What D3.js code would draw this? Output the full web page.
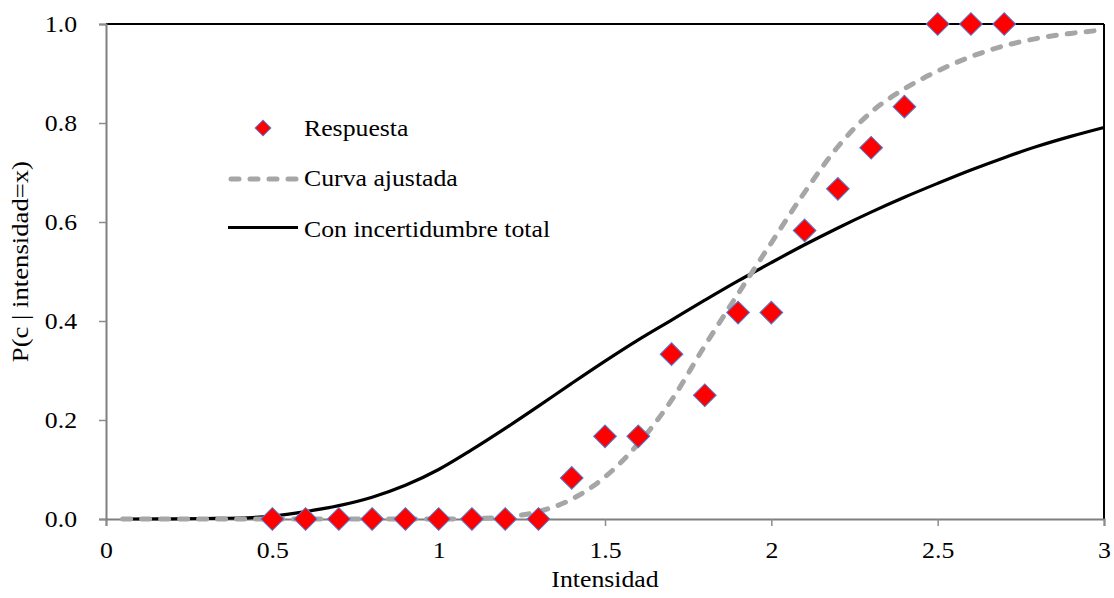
<!DOCTYPE html>
<html>
<head>
<meta charset="utf-8">
<script src="https://cdn.jsdelivr.net/npm/d3@7"></script>
<style>
  body { margin: 0; background: #fff; }
  svg text { font-family: "Liberation Serif", "Times New Roman", serif; fill: #000; }
</style>
</head>
<body>
<div id="chart"></div>
<script>
var serif = '"Liberation Serif", "Times New Roman", serif';

// observed response
var respX = [0.5, 0.6, 0.7, 0.8, 0.9, 1.0, 1.1, 1.2, 1.3, 1.4, 1.5, 1.6, 1.7, 1.8, 1.9, 2.0, 2.1, 2.2, 2.3, 2.4, 2.5, 2.6, 2.7];
var respY = [0, 0, 0, 0, 0, 0, 0, 0, 0, 0.083, 0.167, 0.167, 0.333, 0.25, 0.417, 0.417, 0.583, 0.667, 0.75, 0.833, 1, 1, 1];

// fitted curve
var fitX = [0.05, 0.5, 1.0, 1.1, 1.2, 1.3, 1.4, 1.5, 1.6, 1.7, 1.8, 1.9, 2.0, 2.1, 2.2, 2.3, 2.4, 2.5, 2.6, 2.7, 2.8, 2.9, 3.0];
var fitY = [0, 0, 0, 0.001, 0.004, 0.015, 0.04, 0.085, 0.152, 0.24, 0.35, 0.455, 0.558, 0.66, 0.752, 0.822, 0.869, 0.905, 0.934, 0.956, 0.971, 0.981, 0.988];

// with total uncertainty
var totX = [0.05, 0.2, 0.3, 0.4, 0.5, 0.6, 0.7, 0.8, 0.9, 1.0, 1.1, 1.2, 1.3, 1.4, 1.5, 1.6, 1.7, 1.8, 1.9, 2.0, 2.1, 2.2, 2.3, 2.4, 2.5, 2.6, 2.7, 2.8, 2.9, 3.0];
var totY = [0, 0.0003, 0.001, 0.002, 0.006, 0.015, 0.027, 0.044, 0.068, 0.1, 0.14, 0.183, 0.228, 0.274, 0.319, 0.362, 0.402, 0.442, 0.481, 0.518, 0.554, 0.588, 0.620, 0.650, 0.678, 0.705, 0.730, 0.753, 0.773, 0.791];

var xTicks = [0, 0.5, 1, 1.5, 2, 2.5, 3];
var yTicks = [0, 0.2, 0.4, 0.6, 0.8, 1.0];

var legendLabels = ['Respuesta', 'Curva ajustada', 'Con incertidumbre total'];

var margin = {top: 24, right: 10, bottom: 79, left: 106};

var svg = d3.select('#chart').append('svg')
    .attr('width', 1114)
    .attr('height', 598);

var wrapper = svg.append('g')
    .attr('transform', 'translate(' + margin.left + ',' + margin.top + ')');

var xScale = d3.scaleLinear().domain([0, 3]).range([0, 998]),
    yScale = d3.scaleLinear().domain([0, 1]).range([495, 0]);

// the original text is a little wider than Liberation Serif
function widen(sel, k) {
  sel.each(function() {
    var w = this.getComputedTextLength();
    d3.select(this)
        .attr('textLength', w * (k || 1.12))
        .attr('lengthAdjust', 'spacingAndGlyphs');
  });
}

// frame: top and right in black
wrapper.append('line')
    .attr('x1', 0).attr('x2', xScale(3))
    .attr('y1', yScale(1)).attr('y2', yScale(1))
    .style('stroke', '#000').style('stroke-width', 2);
wrapper.append('line')
    .attr('x1', xScale(3)).attr('x2', xScale(3))
    .attr('y1', yScale(1)).attr('y2', yScale(0))
    .style('stroke', '#000').style('stroke-width', 2);

// axes
var xAxis = wrapper.append('g')
    .attr('transform', 'translate(0,' + yScale(0) + ')')
    .call(d3.axisBottom(xScale).tickValues(xTicks).tickSize(7).tickPadding(16)
      .tickFormat(function(d) { return d3.format('')(d); }));

var yAxis = wrapper.append('g')
    .call(d3.axisLeft(yScale).tickValues(yTicks).tickSize(7).tickPadding(22)
      .tickFormat(d3.format('.1f')));

[xAxis, yAxis].forEach(function(ax) {
  ax.attr('font-family', null).attr('font-size', null);
  ax.select('.domain').style('stroke', '#7f7f7f').style('stroke-width', 2);
  ax.selectAll('.tick line').style('stroke', '#8c8c8c').style('stroke-width', 1.5);
  ax.selectAll('.tick text')
      .style('font-family', serif)
      .style('font-size', '23px')
      .style('fill', '#000')
      .call(widen);
});

// axis titles
svg.append('text')
    .attr('x', margin.left + xScale(1.5))
    .attr('y', 587)
    .style('text-anchor', 'middle')
    .style('font-size', '23px')
    .text('Intensidad')
    .call(widen);

svg.append('text')
    .attr('transform', 'translate(28,' + (margin.top + yScale(0.52)) + ') rotate(-90)')
    .style('text-anchor', 'middle')
    .style('font-size', '23px')
    .text('P(c | intensidad=x)')
    .call(widen, 1.16);

// lines
var line = d3.line()
    .x(function(d) { return xScale(d[0]); })
    .y(function(d) { return yScale(d[1]); })
    .curve(d3.curveMonotoneX);

wrapper.append('path')
    .datum(d3.zip(totX, totY))
    .attr('d', line)
    .style('fill', 'none')
    .style('stroke', '#000')
    .style('stroke-width', 3.2);

wrapper.append('path')
    .datum(d3.zip(fitX, fitY))
    .attr('d', line)
    .style('fill', 'none')
    .style('stroke', '#a6a6a6')
    .style('stroke-width', 5)
    .style('stroke-linecap', 'round')
    .style('stroke-dasharray', '8,11');

// diamonds
var diamond = d3.symbol().type(d3.symbolSquare).size(260);

wrapper.selectAll('.point')
    .data(d3.zip(respX, respY))
  .enter().append('path')
    .attr('class', 'point')
    .attr('d', diamond)
    .attr('transform', function(d) { return 'translate(' + xScale(d[0]) + ',' + yScale(d[1]) + ') rotate(45)'; })
    .style('fill', '#ff0000')
    .style('stroke', '#4f7ed6')
    .style('stroke-width', 1);

// legend
var legend = svg.append('g');

legend.append('path')
    .attr('d', d3.symbol().type(d3.symbolSquare).size(125))
    .attr('transform', 'translate(263,128) rotate(45)')
    .style('fill', '#ff0000')
    .style('stroke', '#4f7ed6')
    .style('stroke-width', 1);

legend.append('line')
    .attr('x1', 231).attr('x2', 297)
    .attr('y1', 179).attr('y2', 179)
    .style('stroke', '#a6a6a6')
    .style('stroke-width', 5)
    .style('stroke-linecap', 'round')
    .style('stroke-dasharray', '8,11');

legend.append('line')
    .attr('x1', 228).attr('x2', 298)
    .attr('y1', 227.5).attr('y2', 227.5)
    .style('stroke', '#000')
    .style('stroke-width', 3.2);

legend.selectAll('.legend-text')
    .data(legendLabels)
  .enter().append('text')
    .attr('class', 'legend-text')
    .attr('x', 304)
    .attr('y', function(d, i) { return 136 + i * 50.3; })
    .style('font-size', '23px')
    .text(function(d) { return d; })
    .call(widen);
</script>
</body>
</html>
